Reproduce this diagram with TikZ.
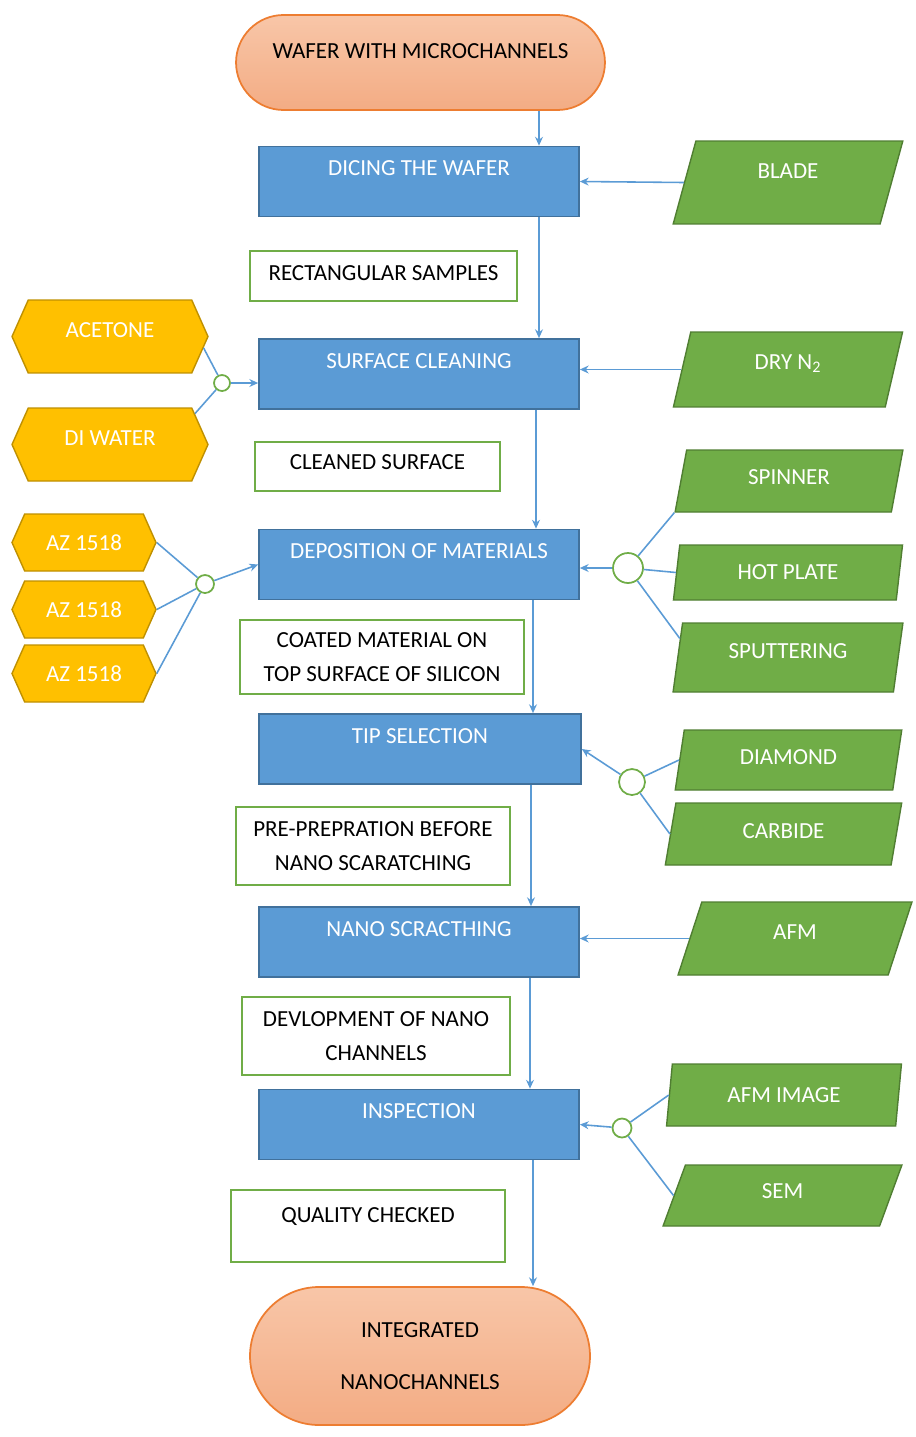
\documentclass[tikz,border=0pt]{standalone}
\usepackage{fontspec}
\setmainfont{Carlito}
\usetikzlibrary{shapes.geometric,shapes.misc,shapes.symbols,arrows.meta}

\definecolor{procblue}{HTML}{5B9BD5}
\definecolor{procedge}{HTML}{41719C}
\definecolor{toolgreen}{HTML}{70AD47}
\definecolor{tooledge}{HTML}{507E32}
\definecolor{chemyellow}{HTML}{FFC000}
\definecolor{chemedge}{HTML}{BF9000}
\definecolor{termedge}{HTML}{ED7D31}
\definecolor{termtop}{HTML}{F8C6A8}
\definecolor{termbot}{HTML}{F3AC84}

\begin{document}
\begin{tikzpicture}[x=0.02cm, y=-0.02cm,
  every node/.style={font=\fontsize{13.1}{19.3}\selectfont, inner sep=0pt},
  lift/.style={text height=8.5pt, text depth=#1},
  term/.style={rounded rectangle, draw=termedge, line width=1pt, top color=termtop, bottom color=termbot},
  proc/.style={rectangle, draw=procedge, fill=procblue, line width=1pt, text=white,
    minimum width=6.4cm, minimum height=1.4cm, lift=15.2pt},
  note/.style={rectangle, draw=toolgreen, fill=white, line width=1.1pt, align=center},
  tool/.style={trapezium, trapezium left angle=79, trapezium right angle=101, trapezium stretches=true,
    draw=tooledge, fill=toolgreen, line width=0.8pt, text=white},
  chem/.style={signal, signal to=east and west, signal pointer angle=132,
    draw=chemedge, fill=chemyellow, line width=0.8pt, text=white},
  junc/.style={circle, draw=toolgreen, fill=white, line width=1pt},
  flow/.style={draw=procblue, line width=0.9pt, -{Stealth[length=5pt,width=4.5pt]}},
  link/.style={draw=procblue, line width=0.9pt}]
  \useasboundingbox (0,0) rectangle (916,1437);

  % main steps
  \node[term, minimum width=7.38cm, minimum height=1.9cm, lift=13.5pt] (wafer) at (420.5,62.5) {WAFER WITH MICROCHANNELS};
  \node[proc] (dice) at (419,181.5) {DICING THE WAFER};
  \node[proc] (clean) at (419,374) {SURFACE CLEANING};
  \node[proc] (depo) at (419,564.5) {DEPOSITION OF MATERIALS};
  \node[proc, minimum width=6.44cm] (tip) at (420,749) {TIP SELECTION};
  \node[proc] (scratch) at (419,942) {NANO SCRACTHING};
  \node[proc] (inspect) at (419,1124.5) {INSPECTION};
  \node[term, minimum width=6.8cm, minimum height=2.76cm, align=center] (nanoch) at (420,1356) {INTEGRATED\\[10.2pt]NANOCHANNELS};

  % results between the steps
  \node[note, minimum width=5.34cm, minimum height=1cm, lift=3.8pt] (rect) at (383.5,276) {RECTANGULAR SAMPLES};
  \node[note, minimum width=4.9cm, minimum height=0.98cm, lift=5.5pt] (cleaned) at (377.5,466.5) {CLEANED SURFACE};
  \node[note, minimum width=5.68cm, minimum height=1.48cm] (coated) at (382,657) {COATED MATERIAL ON\\TOP SURFACE OF SILICON};
  \node[note, minimum width=5.48cm, minimum height=1.56cm] (prep) at (373,846) {PRE-PREPRATION BEFORE\\NANO SCARATCHING};
  \node[note, minimum width=5.36cm, minimum height=1.56cm] (devel) at (376,1036) {DEVLOPMENT OF NANO\\CHANNELS};
  \node[note, minimum width=5.48cm, minimum height=1.44cm, lift=12.9pt] (quality) at (368,1226) {QUALITY CHECKED};

  % chemicals
  \node[chem, minimum width=3.92cm, minimum height=1.46cm, lift=7.8pt] (acetone) at (110,336.5) {ACETONE};
  \node[chem, minimum width=3.92cm, minimum height=1.46cm, lift=7.8pt] (diwater) at (110,444.5) {DI WATER};
  \node[chem, minimum width=2.88cm, minimum height=1.14cm] (azA) at (84,542.5) {AZ 1518};
  \node[chem, minimum width=2.88cm, minimum height=1.14cm] (azB) at (84,609.5) {AZ 1518};
  \node[chem, minimum width=2.88cm, minimum height=1.14cm] (azC) at (84,673.5) {AZ 1518};

  % tools
  \node[tool, minimum width=4.6cm, minimum height=1.66cm, lift=13.5pt] (blade) at (788,182.5) {BLADE};
  \node[tool, minimum width=4.6cm, minimum height=1.5cm, lift=8.9pt] (dryn) at (788,369.5) {DRY N\textsubscript{2}};
  \node[tool, minimum width=4.56cm, minimum height=1.24cm, lift=5pt] (spinner) at (789,481) {SPINNER};
  \node[tool, minimum width=4.6cm, minimum height=1.1cm] (hotplate) at (788,572.5) {HOT PLATE};
  \node[tool, minimum width=4.62cm, minimum height=1.38cm, lift=7.2pt] (sputter) at (788,657.5) {SPUTTERING};
  \node[tool, minimum width=4.54cm, minimum height=1.2cm, lift=3.8pt] (diamond) at (788.5,760) {DIAMOND};
  \node[tool, minimum width=4.74cm, minimum height=1.24cm, lift=3.3pt] (carbide) at (783.5,834) {CARBIDE};
  \node[tool, minimum width=4.68cm, minimum height=1.46cm, lift=7.8pt] (afm) at (795,938.5) {AFM};
  \node[tool, minimum width=4.72cm, minimum height=1.24cm] (afmimg) at (784,1095) {AFM IMAGE};
  \node[tool, minimum width=4.78cm, minimum height=1.22cm, lift=5.5pt] (sem) at (782.5,1195.5) {SEM};

  % joints
  \node[junc, minimum size=0.32cm] (jclean) at (222,383) {};
  \node[junc, minimum size=0.36cm] (jdepoL) at (205,584) {};
  \node[junc, minimum size=0.6cm] (jdepoR) at (628,568) {};
  \node[junc, minimum size=0.52cm] (jtip) at (632,782) {};
  \node[junc, minimum size=0.38cm] (jinsp) at (622,1128) {};

  % columns of the down arrows
  \coordinate (c1) at (539,0);
  \coordinate (c2) at (536,0);
  \coordinate (c3) at (533,0);
  \coordinate (c4) at (531,0);
  \coordinate (c5) at (530,0);

  \draw[flow] (wafer.south -| c1) -- (dice.north -| c1);
  \draw[flow] (dice.south -| c1) -- (clean.north -| c1);
  \draw[flow] (clean.south -| c2) -- (depo.north -| c2);
  \draw[flow] (depo.south -| c3) -- (tip.north -| c3);
  \draw[flow] (tip.south -| c4) -- (scratch.north -| c4);
  \draw[flow] (scratch.south -| c5) -- (inspect.north -| c5);
  \draw[flow] (inspect.south -| c3) -- (nanoch.north -| c3);

  % inputs from the right
  \draw[flow] (blade.west) -- (dice.east);
  \draw[flow] (dryn.west) -- (dryn.west -| clean.east);
  \draw[flow] (afm.west) -- (afm.west -| scratch.east);

  \draw[link] (acetone.-7) -- (jclean);
  \draw[link] (diwater.20) -- (jclean);
  \draw[flow] (jclean) -- (jclean -| clean.west);

  \draw[link] (azA.east) -- (jdepoL);
  \draw[link] (azB.east) -- (jdepoL);
  \draw[link] (azC.east) -- (jdepoL);
  \draw[flow] (jdepoL) -- (depo.west);

  \draw[link] (spinner.bottom left corner) -- (jdepoR);
  \draw[link] (hotplate.west) -- (jdepoR);
  \draw[link] (sputter.170) -- (jdepoR);
  \draw[flow] (jdepoR) -- (jdepoR -| depo.east);

  \draw[link] (diamond.west) -- (jtip);
  \draw[link] (carbide.west) -- (jtip);
  \draw[flow] (jtip) -- (tip.east);

  \draw[link] (afmimg.west) -- (jinsp);
  \draw[link] (sem.west) -- (jinsp);
  \draw[flow] (jinsp) -- (inspect.east);
\end{tikzpicture}
\end{document}
